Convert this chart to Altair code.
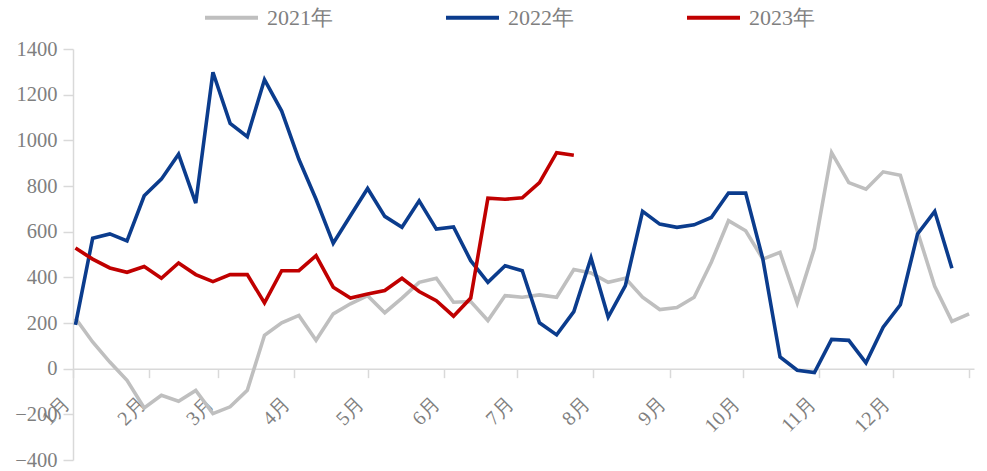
import altair as alt
import pandas as pd

# weekly observation dates (x categories)
weeks = pd.date_range("2022-01-02", periods=53, freq="7D").strftime("%Y-%m-%d").tolist()

series_names = ["2021年", "2022年", "2023年"]
series_colors = ["#BFBFBF", "#0B3C8D", "#C00000"]

s2021 = [221, 117, 29, -51, -172, -117, -143, -95, -197, -167, -95, 146, 201, 233,
         124, 240, 284, 320, 245, 309, 378, 396, 291, 294, 211, 320, 313, 323, 313,
         434, 419, 378, 396, 313, 259, 268, 313, 466, 648, 604, 480, 509, 288, 527,
         946, 815, 786, 862, 847, 600, 361, 207, 240]
s2022 = [192, 571, 590, 560, 757, 830, 939, 725, 1298, 1074, 1016, 1266, 1128, 917,
         742, 549, 670, 789, 667, 619, 735, 611, 621, 473, 378, 451, 429, 201, 148,
         250, 485, 226, 364, 689, 633, 619, 630, 662, 769, 769, 480, 51, -7, -17, 128,
         124, 26, 182, 280, 590, 689, 440]
s2023 = [528, 480, 441, 422, 447, 396, 463, 412, 381, 412, 412, 288, 429, 429, 495,
         357, 309, 327, 342, 396, 338, 298, 230, 309, 747, 742, 748, 815, 946, 935]

y_ticks = [-400, -200, 0, 200, 400, 600, 800, 1000, 1200, 1400]

rows = []
for name, vals in zip(series_names, [s2021, s2022, s2023]):
    for d, v in zip(weeks, vals):
        rows.append({"date": d, "value": v, "series": name})
df = pd.DataFrame(rows)

W, H = 901, 411
YMIN, YMAX = -400, 1400
zero_offset = -H * (0 - YMIN) / (YMAX - YMIN)

month_ticks = [alt.DateTime(year=2022, month=m, date=1, utc=True) for m in range(1, 13)]
month_ticks.append(alt.DateTime(year=2023, month=1, date=1, utc=True))

axis_color = "#D9D9D9"
label_color = "#7F7F7F"
font = "Liberation Serif"

chart = alt.Chart(df).mark_line(strokeWidth=3.6).encode(
    x=alt.X(
        "date:T",
        scale=alt.Scale(
            type="utc",
            domain=[alt.DateTime(year=2022, month=1, date=1, utc=True),
                    alt.DateTime(year=2023, month=1, date=3, utc=True)],
        ),
        axis=alt.Axis(
            values=month_ticks,
            labelExpr="utcyear(datum.value) == 2022 ? (utcmonth(datum.value) + 1) + '月' : ''",
            offset=zero_offset,
            title=None,
            grid=False,
            domainColor=axis_color,
            domainWidth=1.5,
            tickColor=axis_color,
            tickWidth=1.5,
            tickSize=9,
            labelAngle=-45,
            labelAlign="right",
            labelBaseline="bottom",
            labelPadding=30,
            labelFontSize=20,
            labelFont=font,
            labelColor=label_color,
            labelFlush=False,
            labelOverlap=False,
        ),
    ),
    y=alt.Y(
        "value:Q",
        scale=alt.Scale(domain=[YMIN, YMAX], nice=False, zero=False),
        axis=alt.Axis(
            values=y_ticks,
            format="d",
            title=None,
            grid=False,
            domainColor=axis_color,
            domainWidth=1.5,
            tickColor=axis_color,
            tickWidth=1.5,
            tickSize=10,
            labelPadding=6,
            labelFontSize=20.5,
            labelFont=font,
            labelColor=label_color,
        ),
    ),
    color=alt.Color(
        "series:N",
        scale=alt.Scale(domain=series_names, range=series_colors),
        legend=alt.Legend(
            title=None,
            orient="none",
            legendX=130,
            legendY=-60,
            direction="horizontal",
            symbolType="stroke",
            symbolSize=2809,
            symbolStrokeWidth=4,
            labelFontSize=22,
            labelFont=font,
            labelColor=label_color,
            labelOffset=7,
            columnPadding=105,
        ),
    ),
).properties(
    width=W,
    height=H,
    autosize=alt.AutoSizeParams(type="none"),
    padding={"left": 73, "top": 49, "right": 13, "bottom": 11},
    background="white",
).configure_view(stroke=None)

chart.save("out.html", embed_options={"renderer": "svg", "actions": False})
